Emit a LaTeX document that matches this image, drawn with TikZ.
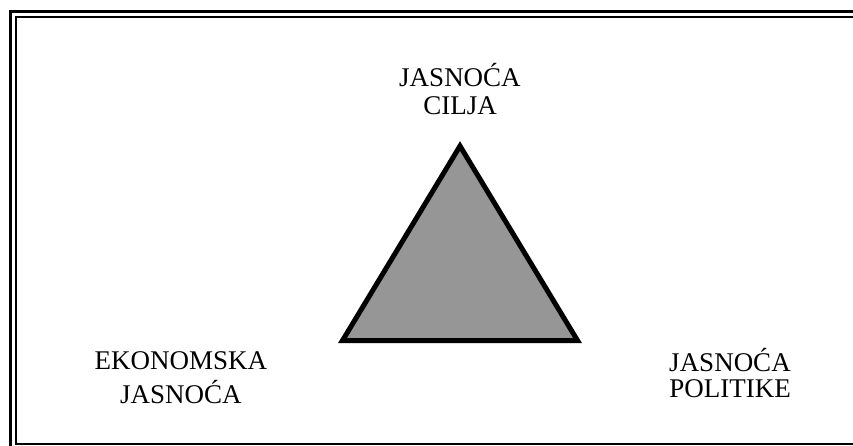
\documentclass[tikz,border=0pt]{standalone}
\usepackage{fontspec}
\setmainfont{Liberation Serif}
\definecolor{trifill}{RGB}{150,150,150}
\begin{document}
\begin{tikzpicture}[x=1pt,y=-1pt,
  lbl/.style={anchor=base,inner sep=0pt,font=\fontsize{27}{31}\selectfont},
  frameline/.style={draw=black,line width=2.6pt}]
\useasboundingbox (0,0) rectangle (853,445);
\begin{scope}
\clip (0,0) rectangle (853,445);
\draw[frameline] (10.5,11.5) rectangle (900,500);
\draw[frameline,line width=2.2pt] (15.8,17.2) rectangle (880,443.6);
\end{scope}
\coordinate (apex) at (460,146);
\coordinate (bl) at (342.5,340.5);
\coordinate (br) at (577.5,340.5);
\draw[fill=trifill,line width=5pt,line join=miter] (apex) -- (bl) -- (br) -- cycle;
\node[lbl] (t1) at (460,86.7) {JASNOĆA};
\node[lbl] (t2) at (460,114.3) {CILJA};
\node[lbl] (l1) at (181,369.5) {EKONOMSKA};
\node[lbl] (l2) at (181,403) {JASNOĆA};
\node[lbl] (r1) at (730,371.7) {JASNOĆA};
\node[lbl] (r2) at (730,397.5) {POLITIKE};
\end{tikzpicture}
\end{document}
